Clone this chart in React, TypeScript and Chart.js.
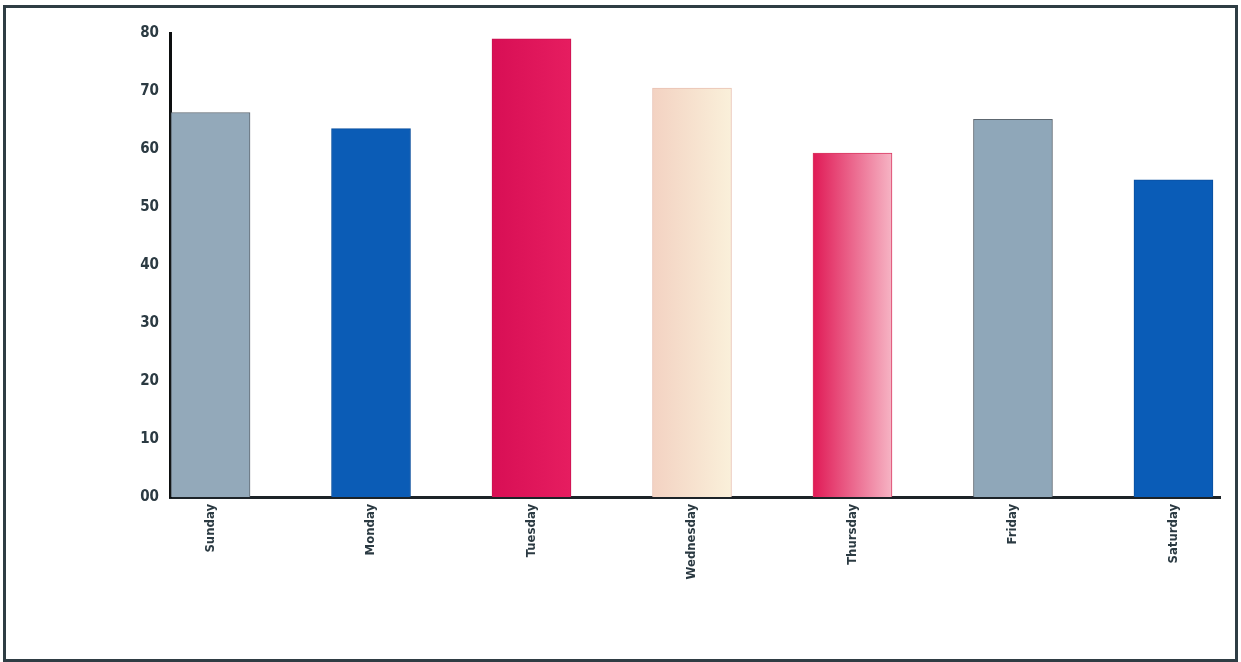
import React, { useEffect, useRef } from "react";
import { Chart, registerables } from "chart.js";

Chart.register(...registerables);

const days = ["Sunday", "Monday", "Tuesday", "Wednesday", "Thursday", "Friday", "Saturday"];
const values = [66.3, 63.5, 79, 70.5, 59.3, 65.1, 54.7];
const barColorsLeft = ["#93a9ba", "#0b5cb6", "#d80f55", "#f3d2c2", "#e01a56", "#8fa7b9", "#0a5cb7"];
const barColorsRight = ["#93a9ba", "#0b5cb6", "#e61d60", "#faf0da", "#f6b4c4", "#8fa7b9", "#0a5cb7"];
const barBorders = ["#5d6770", "#0a4f9e", "#c8104f", "#e9c2b4", "#d93a63", "#5d6770", "#0a4f9e"];
const yTicks = [0, 10, 20, 30, 40, 50, 60, 70, 80];

const BAR_W = 79;

export default function App() {
  const ref = useRef<HTMLCanvasElement | null>(null);

  useEffect(() => {
    document.body.style.margin = "0";
    const canvas = ref.current;
    if (!canvas) return;
    const chart = new Chart(canvas, {
      type: "bar",
      data: {
        datasets: [
          {
            data: values.map((v, i) => ({ x: i, y: v })),
            backgroundColor: (ctx: any) => {
              const i = ctx.dataIndex;
              const c = ctx.chart;
              const xs = c.scales && c.scales.x;
              if (i === undefined || !xs || barColorsLeft[i] === barColorsRight[i]) return barColorsLeft[i ?? 0];
              const cx = xs.getPixelForValue(i);
              const g = c.ctx.createLinearGradient(cx - BAR_W / 2, 0, cx + BAR_W / 2, 0);
              g.addColorStop(0, barColorsLeft[i]);
              g.addColorStop(1, barColorsRight[i]);
              return g;
            },
            borderColor: barBorders,
            borderWidth: 1,
            barThickness: BAR_W,
          },
        ],
      },
      options: {
        animation: false,
        responsive: false,
        maintainAspectRatio: false,
        layout: { padding: { left: 0, right: 15, top: 25, bottom: 0 } },
        plugins: { legend: { display: false }, tooltip: { enabled: false } },
        scales: {
          x: {
            type: "linear",
            offset: false,
            min: -0.2525,
            max: 6.29,
            grid: { display: false, drawTicks: false, offset: false },
            border: { display: true, color: "#1c2328", width: 3 },
            afterFit: (s: any) => {
              s.height = 162;
            },
            afterBuildTicks: (s: any) => {
              s.ticks = days.map((_, i) => ({ value: i }));
            },
            ticks: {
              autoSkip: false,
              maxRotation: 90,
              minRotation: 90,
              padding: 7,
              color: "#2b3a42",
              font: { family: "'DejaVu Sans Condensed', 'Liberation Sans', sans-serif", size: 13, weight: "bold" },
              callback: (v: any) => days[Math.round(Number(v))] ?? "",
            },
          },
          y: {
            min: 0,
            max: 80,
            grid: { display: false, drawTicks: false },
            border: { display: true, color: "#0d0f10", width: 3 },
            afterFit: (s: any) => {
              s.width = 164;
            },
            afterBuildTicks: (s: any) => {
              s.ticks = yTicks.map((v) => ({ value: v }));
            },
            ticks: {
              padding: 11,
              color: "#2b3a42",
              font: { family: "'DejaVu Sans Condensed', 'Liberation Sans', sans-serif", size: 15, weight: "bold" },
              callback: (v: any) => (Number(v) === 0 ? "00" : String(v)),
            },
          },
        },
      },
    });
    return () => chart.destroy();
  }, []);

  return (
    <div
      style={{
        position: "absolute",
        left: 3,
        top: 5,
        width: 1235,
        height: 657,
        border: "3px solid #2f3d44",
        boxSizing: "border-box",
        background: "#ffffff",
      }}
    >
      <canvas ref={ref} width={1229} height={651} style={{ display: "block" }} />
    </div>
  );
}
